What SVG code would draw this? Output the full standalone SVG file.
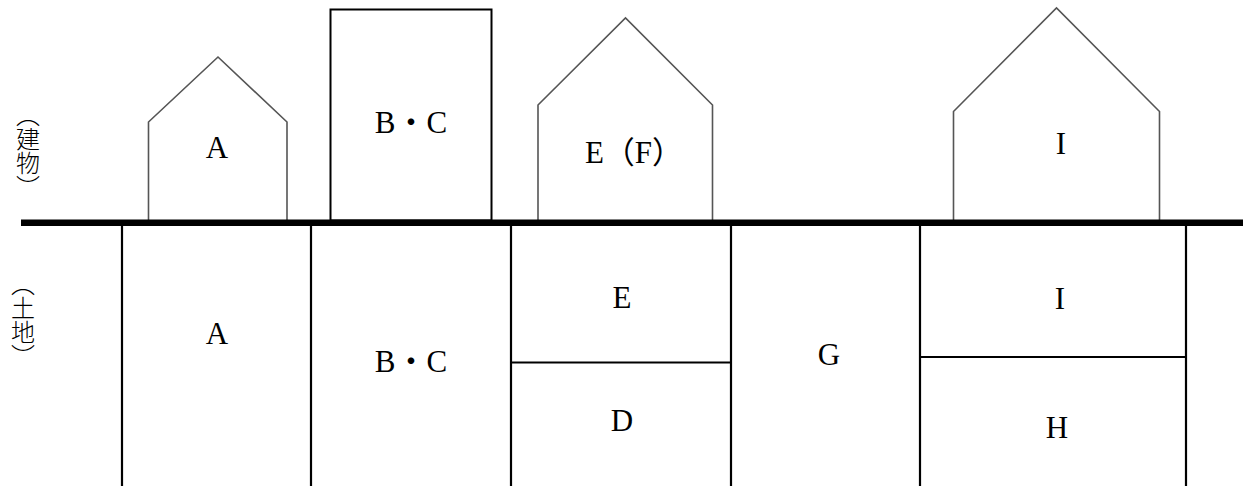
<svg xmlns="http://www.w3.org/2000/svg" width="1250" height="486" viewBox="0 0 1250 486">
<style>
.house{fill:none;stroke:#555;stroke-width:1.6;stroke-linejoin:miter}
.box{fill:none;stroke:#000;stroke-width:2}
.lot{fill:none;stroke:#000;stroke-width:2.2}
.lbl{font-family:"Liberation Serif","Noto Sans CJK JP",serif;font-size:31px;fill:#000;text-anchor:middle}
.side{font-family:"Noto Sans CJK JP",sans-serif;font-size:24px;font-weight:300;fill:#000;writing-mode:vertical-rl;text-anchor:middle}
</style>
<rect width="1250" height="486" fill="#fff"/>
<g id="buildings">
<g id="bldg-A"><path class="house" d="M148.5,220 V122 L218,57 L287,122 V220"/><text class="lbl" x="217" y="158">A</text></g>
<g id="bldg-BC"><rect class="box" x="330.5" y="9.5" width="161" height="211"/><text class="lbl" x="411" y="133">B・C</text></g>
<g id="bldg-EF"><path class="house" d="M538,220 V105 L625.5,18 L712.5,105 V220"/><text class="lbl" x="634" y="163">E（F）</text></g>
<g id="bldg-I"><path class="house" d="M953.5,220 V111.5 L1056.5,8 L1159.5,111.5 V220"/><text class="lbl" x="1061" y="154">I</text></g>
</g>
<g id="ground"><rect x="21" y="219.5" width="1222" height="6.5" fill="#000"/></g>
<g id="lots">
<g id="lot-lines">
<line class="lot" x1="122" y1="226" x2="122" y2="486"/>
<line class="lot" x1="311" y1="226" x2="311" y2="486"/>
<line class="lot" x1="511" y1="226" x2="511" y2="486"/>
<line class="lot" x1="731" y1="226" x2="731" y2="486"/>
<line class="lot" x1="920" y1="226" x2="920" y2="486"/>
<line class="lot" x1="1186" y1="226" x2="1186" y2="486"/>
<line class="lot" x1="511" y1="362.5" x2="731" y2="362.5"/>
<line class="lot" x1="920" y1="357" x2="1186" y2="357"/>
</g>
<g id="lot-A"><text class="lbl" x="217" y="344">A</text></g>
<g id="lot-BC"><text class="lbl" x="411" y="372">B・C</text></g>
<g id="lot-E"><text class="lbl" x="622" y="308">E</text></g>
<g id="lot-D"><text class="lbl" x="622" y="431">D</text></g>
<g id="lot-G"><text class="lbl" x="829" y="365">G</text></g>
<g id="lot-I"><text class="lbl" x="1060" y="309">I</text></g>
<g id="lot-H"><text class="lbl" x="1057" y="438">H</text></g>
</g>
<g id="side-labels">
<text class="side" x="28" y="151">（建物）</text>
<text class="side" x="23" y="320">（土地）</text>
</g>
</svg>
